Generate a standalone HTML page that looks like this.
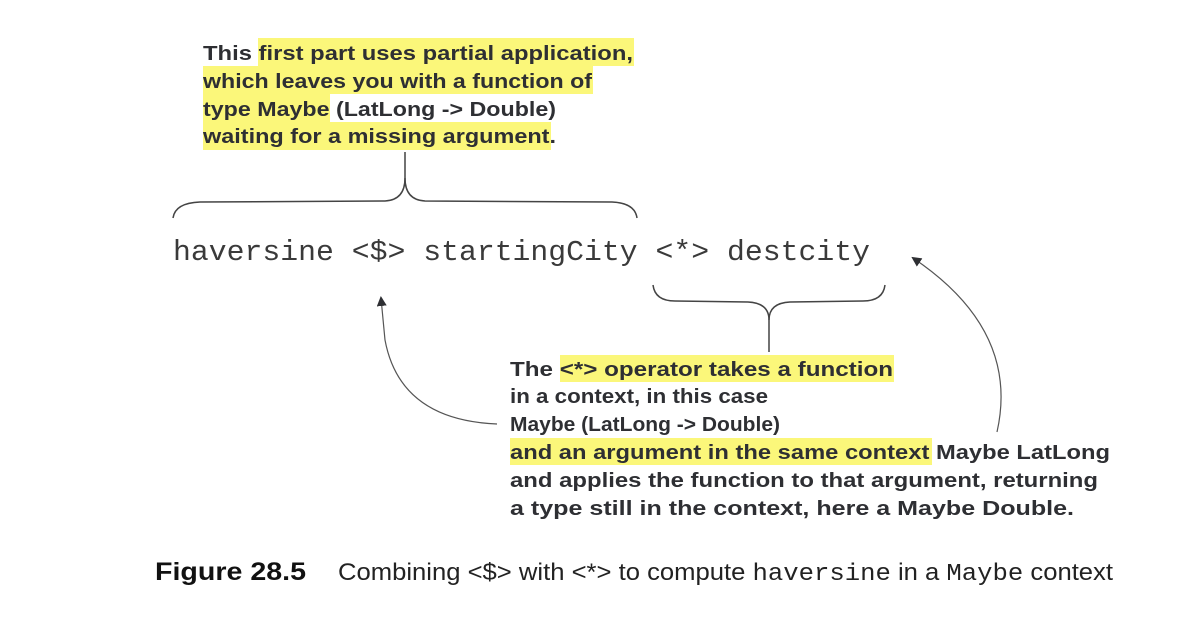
<!DOCTYPE html>
<html><head><meta charset="utf-8"><style>
html,body{margin:0;padding:0;background:#fff;}
svg{display:block;}
.a{font-family:"Liberation Sans",sans-serif;font-weight:bold;font-size:20px;fill:#2e2f33;}
.m{font-family:"Liberation Mono",monospace;font-size:29px;fill:#3a3a3a;}
</style></head><body>
<svg width="1202" height="634" viewBox="0 0 1202 634" xmlns="http://www.w3.org/2000/svg">
<defs><marker id="ah" markerWidth="10" markerHeight="10" refX="8" refY="5" orient="auto" markerUnits="userSpaceOnUse"><path d="M0,0 L10,5 L0,10 Z" fill="#2e2f33"/></marker></defs>
<g fill="#fbf77a">
<rect x="258" y="38" width="376" height="28"/>
<rect x="203" y="66" width="390" height="28"/>
<rect x="203" y="94" width="127" height="28"/>
<rect x="203" y="122" width="348" height="28"/>
<rect x="560" y="355" width="334" height="27"/>
<rect x="510" y="438" width="422" height="27"/>
</g>
<text class="a" x="203" y="60" textLength="430" lengthAdjust="spacingAndGlyphs">This first part uses partial application,</text>
<text class="a" x="203" y="88" textLength="389" lengthAdjust="spacingAndGlyphs">which leaves you with a function of</text>
<text class="a" x="203" y="116" textLength="353" lengthAdjust="spacingAndGlyphs">type Maybe (LatLong -&gt; Double)</text>
<text class="a" x="203" y="143" textLength="353" lengthAdjust="spacingAndGlyphs">waiting for a missing argument.</text>

<text class="m" x="173" y="260" textLength="697" lengthAdjust="spacingAndGlyphs">haversine &lt;$&gt; startingCity &lt;*&gt; destcity</text>

<g fill="none" stroke="#444" stroke-width="1.5">
<path d="M405 152 V178 Q405 200 385 201 L200 202 Q175 203 173 218"/>
<path d="M405 178 Q405 200 425 201 L612 202 Q635 203 637 218"/>
<path d="M653 285 Q655 301 675 301 L748 302 Q769 303 769 320 V352"/>
<path d="M885 285 Q883 301 863 301 L790 302 Q769 303 769 320"/>
</g>
<g fill="none" stroke="#555" stroke-width="1.2">
<path d="M497 424 Q400 420 385 340 L381 298" marker-end="url(#ah)"/>
<path d="M997 432 Q1020 330 913 258" marker-end="url(#ah)"/>
</g>

<text class="a" x="510" y="376" textLength="383" lengthAdjust="spacingAndGlyphs">The &lt;*&gt; operator takes a function</text>
<text class="a" x="510" y="403" textLength="258" lengthAdjust="spacingAndGlyphs">in a context, in this case</text>
<text class="a" x="510" y="431" textLength="270" lengthAdjust="spacingAndGlyphs">Maybe (LatLong -&gt; Double)</text>
<text class="a" x="510" y="459" textLength="600" lengthAdjust="spacingAndGlyphs">and an argument in the same context Maybe LatLong</text>
<text class="a" x="510" y="487" textLength="588" lengthAdjust="spacingAndGlyphs">and applies the function to that argument, returning</text>
<text class="a" x="510" y="515" textLength="564" lengthAdjust="spacingAndGlyphs">a type still in the context, here a Maybe Double.</text>

<text x="155" y="580" font-family="Liberation Sans,sans-serif" font-weight="bold" font-size="25" fill="#111" textLength="151" lengthAdjust="spacingAndGlyphs">Figure 28.5</text>
<text x="338" y="580" font-family="Liberation Sans,sans-serif" font-size="24" fill="#222" textLength="775" lengthAdjust="spacingAndGlyphs">Combining &lt;$&gt; with &lt;*&gt; to compute <tspan font-family="Liberation Mono,monospace">haversine</tspan> in a <tspan font-family="Liberation Mono,monospace">Maybe</tspan> context</text>
</svg>
</body></html>
